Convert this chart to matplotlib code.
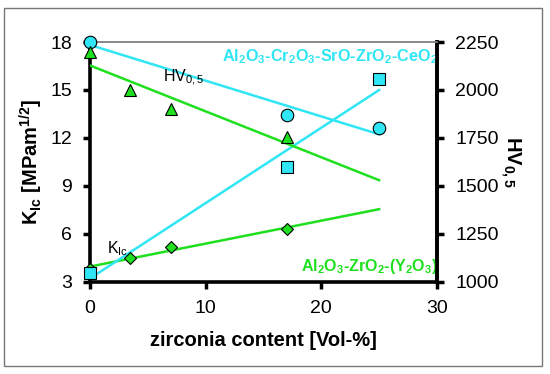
import matplotlib
matplotlib.use('Agg')
import matplotlib.pyplot as plt
import numpy as np
from matplotlib.patches import Rectangle

plt.rcParams['font.family'] = 'Liberation Sans'
plt.rcParams['mathtext.fontset'] = 'custom'
plt.rcParams['mathtext.rm'] = 'Liberation Sans'
plt.rcParams['mathtext.bf'] = 'Liberation Sans:bold'
plt.rcParams['mathtext.it'] = 'Liberation Sans:italic'

# zirconia content [Vol-%]
x_cr = [0, 17, 25]          # Al2O3-Cr2O3-SrO-ZrO2-CeO2
x_y = [0, 3.5, 7, 17]       # Al2O3-ZrO2-(Y2O3)

# K_Ic [MPam^1/2]
kic_cr = [3.55, 10.2, 15.7]
kic_y = [3.8, 4.5, 5.2, 6.3]

# HV0,5
hv_cr = [2250, 1870, 1802]
hv_y = [2198, 2000, 1901, 1755]

cyan = '#30e6f4'
green = '#1ee01e'

fig = plt.figure(figsize=(5.5, 3.74), dpi=100)
ax = fig.add_axes([0.1636, 0.246, 0.6309, 0.6417])
ax2 = ax.twinx()

# outer frame
fig.patches.append(Rectangle((4 / 550, 8 / 374), 538 / 550, 358 / 374,
                             transform=fig.transFigure, fill=False,
                             edgecolor='#777777', linewidth=1.0))

def trend(ax_, xs, ys, color):
    k, b = np.polyfit(xs, ys, 1)
    xx = np.array([0, 25])
    ax_.plot(xx, k * xx + b, color=color, lw=1.8, zorder=2)

trend(ax, x_y, kic_y, green)
trend(ax, x_cr, kic_cr, cyan)
trend(ax2, x_y, hv_y, green)
trend(ax2, x_cr, hv_cr, cyan)

ax.plot(x_y, kic_y, 'D', ms=6, mfc=green, mec='black', mew=0.8, ls='none', zorder=3, clip_on=False)
ax.plot(x_cr, kic_cr, 's', ms=9, mfc=cyan, mec='black', mew=0.8, ls='none', zorder=4, clip_on=False)
ax2.plot(x_cr, hv_cr, 'o', ms=9, mfc=cyan, mec='black', mew=0.8, ls='none', zorder=3, clip_on=False)
ax2.plot(x_y, hv_y, '^', ms=9, mfc=green, mec='black', mew=0.8, ls='none', zorder=4, clip_on=False)

ax.set_xlim(0, 30)
ax.set_ylim(3, 18)
ax2.set_ylim(1000, 2250)
ax.set_xticks([0, 10, 20, 30])
ax.set_yticks([3, 6, 9, 12, 15, 18])
ax2.set_yticks([1000, 1250, 1500, 1750, 2000, 2250])

for a in (ax, ax2):
    a.tick_params(direction='out', length=5, width=2.5, labelsize=14, pad=8)
    a.spines['top'].set_color('#888888')
    a.spines['top'].set_linewidth(1.2)
    for s in ('left', 'bottom', 'right'):
        a.spines[s].set_linewidth(2.6)
        a.spines[s].set_color('black')
ax2.spines['left'].set_visible(False)
ax2.spines['bottom'].set_visible(False)

ax.set_xlabel('zirconia content [Vol-%]', fontsize=14.5, fontweight='bold', labelpad=10)
ax.set_ylabel(r'K$_{\mathbf{Ic}}$ [MPam$^{\mathbf{1/2}}$]', fontsize=14.5, fontweight='bold', labelpad=4)
ax2.set_ylabel(r'HV$_{\mathbf{0,5}}$', fontsize=14.5, fontweight='bold', rotation=-90, labelpad=17)

ax2.text(6.3, 2045, r'HV$_{\mathrm{0,5}}$', fontsize=11.5, ha='left', va='baseline')
ax.text(1.45, 4.8, r'K$_{\mathrm{Ic}}$', fontsize=11.5, ha='left', va='baseline')
ax.text(30.1, 16.8, r'Al$_{\mathbf{2}}$O$_{\mathbf{3}}$-Cr$_{\mathbf{2}}$O$_{\mathbf{3}}$-SrO-ZrO$_{\mathbf{2}}$-CeO$_{\mathbf{2}}$',
        color=cyan, fontsize=11.7, fontweight='bold', ha='right', va='baseline', zorder=6)
ax.text(30.1, 3.7, r'Al$_{\mathbf{2}}$O$_{\mathbf{3}}$-ZrO$_{\mathbf{2}}$-(Y$_{\mathbf{2}}$O$_{\mathbf{3}}$)',
        color=green, fontsize=11.5, fontweight='bold', ha='right', va='baseline', zorder=6)

fig.savefig('out.png', dpi=100)
